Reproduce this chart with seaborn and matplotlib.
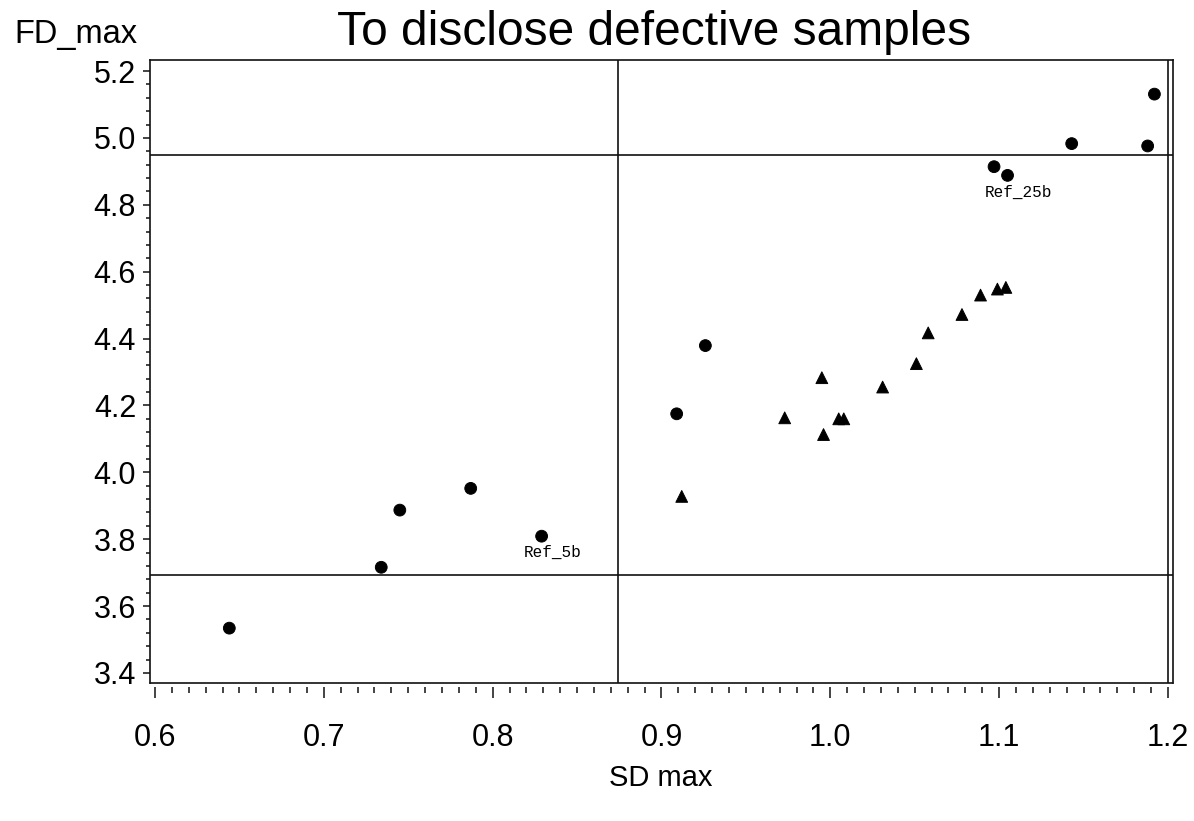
import pandas as pd
import numpy as np
import matplotlib.pyplot as plt
import matplotlib.ticker as mticker
import seaborn as sns

# samples plotted as circles (defective / reference)
circle_sd = [0.644, 0.734, 0.745, 0.787, 0.829, 0.909, 0.926, 1.097, 1.105, 1.143, 1.188, 1.192]
circle_fd = [3.534, 3.716, 3.887, 3.952, 3.809, 4.175, 4.379, 4.914, 4.888, 4.983, 4.976, 5.131]

# samples plotted as triangles
tri_sd = [0.912, 0.973, 0.995, 0.996, 1.005, 1.008, 1.031, 1.051, 1.058, 1.078, 1.089, 1.099, 1.104]
tri_fd = [3.928, 4.163, 4.283, 4.113, 4.160, 4.160, 4.255, 4.325, 4.417, 4.472, 4.530, 4.548, 4.553]

# labelled points
label_names = ["Ref_5b", "Ref_25b"]
label_sd = [0.829, 1.105]
label_fd = [3.809, 4.888]

# reference limits
fd_limits = [4.948, 3.693]
sd_limits = [0.8745, 1.2]

df = pd.DataFrame({
    "SD_max": circle_sd + tri_sd,
    "FD_max": circle_fd + tri_fd,
    "group": ["circle"] * len(circle_sd) + ["triangle"] * len(tri_sd),
})

sns.set_style("white")
plt.rcParams['font.family'] = ['Liberation Sans', 'DejaVu Sans']
plt.rcParams['text.color'] = 'black'
plt.rcParams['xtick.color'] = 'black'
plt.rcParams['ytick.color'] = 'black'

fig = plt.figure(figsize=(11.94, 8.21), dpi=100)
ax = fig.add_axes([0.1256, 0.1681, 0.8568, 0.7588])

sns.scatterplot(data=df, x="SD_max", y="FD_max", style="group",
                markers={"circle": "o", "triangle": "^"},
                color="black", edgecolor="black", s=72, legend=False, ax=ax)

lc = "#111111"
for y in fd_limits:
    ax.axhline(y, color=lc, lw=1.2, zorder=1)
for x in sd_limits:
    ax.axvline(x, color=lc, lw=1.2, zorder=1)

for name, x, y in zip(label_names, label_sd, label_fd):
    ax.annotate(name, (x, y), xytext=(8, -12), textcoords="offset points",
                ha="center", va="center", fontsize=11.5, family="Liberation Mono")

ax.set_xlim(0.597, 1.203)
ax.set_ylim(3.370, 5.233)
ax.xaxis.set_major_locator(mticker.MultipleLocator(0.1))
ax.xaxis.set_minor_locator(mticker.MultipleLocator(0.01))
ax.yaxis.set_major_locator(mticker.MultipleLocator(0.2))
ax.yaxis.set_minor_locator(mticker.MultipleLocator(0.04))
ax.xaxis.set_major_formatter(mticker.FormatStrFormatter("%.1f"))
ax.yaxis.set_major_formatter(mticker.FormatStrFormatter("%.1f"))

for side in ["top", "right", "left", "bottom"]:
    ax.spines[side].set_color(lc)
    ax.spines[side].set_linewidth(1.2)
# x ticks sit a little below the frame
ax.spines["bottom"].set_position(("outward", 3))
ax.spines["bottom"].set_visible(False)
ax.plot([0, 1], [0, 0], transform=ax.transAxes, color=lc, lw=1.2, clip_on=False)

ax.tick_params(axis="x", which="major", direction="out", length=8, width=1.1,
               labelsize=22, pad=18, bottom=True, color=lc)
ax.tick_params(axis="x", which="minor", direction="out", length=4.5, width=1.1,
               bottom=True, color=lc)
ax.tick_params(axis="y", which="major", direction="out", length=5, width=1.1,
               labelsize=22, pad=5, left=True, color=lc)
ax.tick_params(axis="y", which="minor", direction="out", length=3, width=1.1,
               left=True, color=lc)

ax.set_xlabel("")
ax.set_ylabel("")
fig.text(0.548, 0.96, "To disclose defective samples", ha="center", va="center", fontsize=34.5)
fig.text(0.012, 0.958, "FD_max", ha="left", va="center", fontsize=23.5)
fig.text(0.553, 0.052, "SD max", ha="center", va="center", fontsize=21)

fig.savefig("out.png", dpi=100)
